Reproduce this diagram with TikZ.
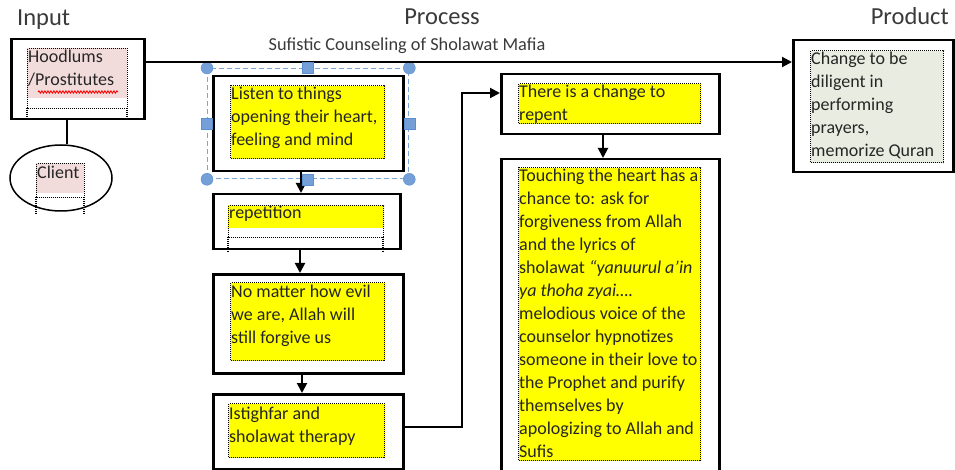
\documentclass[tikz,border=0pt]{standalone}
\usepackage{fontspec}
\setmainfont{Carlito}
\usetikzlibrary{arrows.meta,decorations.pathmorphing,shapes.geometric}
\definecolor{ylw}{HTML}{FFFF00}
\definecolor{pinkf}{HTML}{F2DCDB}
\definecolor{greenf}{HTML}{E9EDE1}
\definecolor{selblue}{HTML}{5B8FD0}
\definecolor{titlec}{HTML}{3A3A3A}
\definecolor{txtc}{HTML}{262626}
\begin{document}
\begin{tikzpicture}[x=1pt,y=-1pt,
  outer/.style={draw=black, line width=2.5pt, fill=white, anchor=north west, inner sep=0pt},
  fillbox/.style={anchor=north west, inner sep=0pt, draw=black, dash pattern=on 1pt off 1pt, line width=1.1pt},
  txt/.style={anchor=north west, align=left, inner sep=0pt, text=txtc, font=\fontsize{18}{23}\selectfont},
  title/.style={font=\fontsize{24.5}{28}\selectfont, text=titlec, inner sep=0pt},
  sub/.style={font=\fontsize{18.3}{22}\selectfont, text=titlec, inner sep=0pt},
  arr/.style={line width=2pt, -{Triangle[length=10pt,width=10pt]}},
  conn/.style={line width=2pt},
  dotl/.style={dash pattern=on 1pt off 1pt, line width=1.1pt},
  selbox/.style={draw=selblue!80, dash pattern=on 5pt off 3pt, line width=1.3pt},
  selcirc/.style={circle, fill=selblue!85, draw=selblue, minimum size=12pt, inner sep=0pt},
  selsq/.style={rectangle, fill=selblue!85, draw=selblue, minimum size=11pt, inner sep=0pt}]
\useasboundingbox (0,0) rectangle (955,470);

% titles
\node[title, anchor=base west] (tin) at (17,26) {Input};
\node[title, anchor=base] (tproc) at (442,25) {Process};
\node[title, anchor=base east] (tprod) at (949,25) {Product};
\node[sub, anchor=base] (tsub) at (407,51) {Sufistic Counseling of Sholawat Mafia};

% input box
\node[outer, minimum width=133, minimum height=80] (hood) at (10,38) {};
\fill[pinkf] (27,48) rectangle (127,98);
\node[fillbox, minimum width=100, minimum height=60] (hoodf) at (27,48) {};
\draw[dotl] (27,108) -- (27,120) (127,108) -- (127,120);
\node[txt] (hoodt) at (28,50) {Hoodlums\\/Prostitutes};
\draw[red, line width=0.9pt, decorate, decoration={snake, amplitude=1.1pt, segment length=3pt}] (38,92) -- (118,92);

% client ellipse
\node[draw=black, ellipse, line width=1.5pt, minimum width=102, minimum height=66, fill=white] (client) at (61,178) {};
\fill[pinkf] (36,163) rectangle (84,193);
\node[fillbox, minimum width=48, minimum height=34] (clientf) at (36,163) {};
\draw[dotl] (36,197) -- (36,215) (84,197) -- (84,215);
\node[txt] (clientt) at (37,166) {Client};
\draw[conn] (hood.south -| 67,0) -- (client.north -| 67,0);

% process boxes
\node[outer, minimum width=190, minimum height=95] (b1) at (212,75) {};
\node[fillbox, fill=ylw, minimum width=154, minimum height=73] (y1) at (230,85) {};
\node[txt] (t1) at (231,87) {Listen to things\\opening their heart,\\feeling and mind};

\node[outer, minimum width=187, minimum height=55] (b2) at (212,193) {};
\fill[ylw] (228,205) rectangle (383,228);
\node[fillbox, minimum width=155, minimum height=32] (y2) at (228,205) {};
\draw[dotl] (228,237) -- (228,252) (383,237) -- (383,252);
\node[txt] (t2) at (229,206) {repetition};

\node[outer, minimum width=190, minimum height=99] (b3) at (212,273) {};
\node[fillbox, fill=ylw, minimum width=154, minimum height=78] (y3) at (230,282) {};
\node[txt] (t3) at (231,285) {No matter how evil\\we are, Allah will\\still forgive us};

\node[outer, minimum width=190, minimum height=75] (b4) at (212,393) {};
\node[fillbox, fill=ylw, minimum width=156, minimum height=54] (y4) at (228,403) {};
\node[txt] (t4) at (229,407) {Istighfar and\\sholawat therapy};

\node[outer, minimum width=218, minimum height=60] (b5) at (500,73) {};
\node[fillbox, fill=ylw, minimum width=182, minimum height=40] (y5) at (518,83) {};
\node[txt] (t5) at (519,85) {There is a change to\\repent};

\node[outer, minimum width=218, minimum height=320] (b6) at (500,158) {};
\node[fillbox, fill=ylw, minimum width=182, minimum height=293] (y6) at (518,167) {};
\node[txt] (t6) at (519,169) {Touching the heart has a\\chance to: ask for\\forgiveness from Allah\\and the lyrics of\\sholawat \textit{“yanuurul a’in}\\\textit{ya thoha zyai….}\\melodious voice of the\\counselor hypnotizes\\someone in their love to\\the Prophet and purify\\themselves by\\apologizing to Allah and\\Sufis};

% product box
\node[outer, minimum width=160, minimum height=132] (prod) at (792,39) {};
\node[fillbox, fill=greenf, minimum width=133, minimum height=112] (pf) at (810,50) {};
\node[txt] (pt) at (811,52) {Change to be\\diligent in\\performing\\prayers,\\memorize Quran};

% selection handles around first process box
\node[selbox, anchor=north west, minimum width=201, minimum height=110, inner sep=0pt] (sel) at (207,68) {};
\foreach \p [count=\i] in {north west, north east, south west, south east}
  \node[selcirc] (sc\i) at (sel.\p) {};

% connectors
\draw[arr] (hood.east |- 0,62) -- (prod.west |- 0,62);
\draw[arr] (b1.south -| 301,0) -- (b2.north -| 301,0);
\foreach \p [count=\i] in {north, south, west, east}
  \node[selsq] (ss\i) at (sel.\p) {};
\draw[arr] (b2.south -| 300,0) -- (b3.north -| 300,0);
\draw[arr] (b3.south -| 302,0) -- (b4.north -| 302,0);
\draw[arr] (b4.east |- 0,427) -- (462,427) |- (b5.west |- 0,93);
\draw[arr] (b5.south -| 603,0) -- (b6.north -| 603,0);
\end{tikzpicture}
\end{document}
